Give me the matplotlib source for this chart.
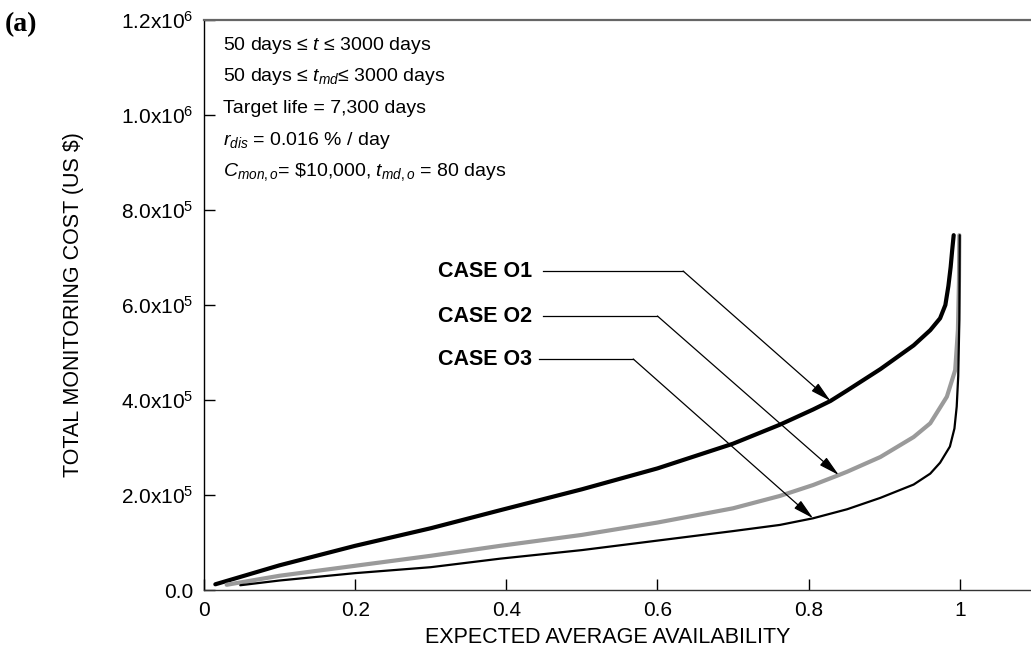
import matplotlib
matplotlib.use("Agg")
import matplotlib.pyplot as plt

plt.rcParams['font.family'] = ['Liberation Sans', 'DejaVu Sans']
plt.rcParams['mathtext.fontset'] = 'custom'
plt.rcParams['mathtext.rm'] = 'Liberation Sans'
plt.rcParams['mathtext.it'] = 'Liberation Sans:italic'
plt.rcParams['mathtext.bf'] = 'Liberation Sans:bold'

# ---- data ----
o1_x = [0.015, 0.1, 0.2, 0.3, 0.392, 0.5, 0.6, 0.7, 0.762, 0.806, 0.829, 0.851,
        0.895, 0.939, 0.961, 0.974, 0.981, 0.985, 0.988, 0.990, 0.992]
o1_y = [12000, 52000, 93000, 130000, 168000, 212000, 256000, 308000, 348000,
        380000, 398000, 420000, 465000, 515000, 547000, 572000, 600000, 640000,
        680000, 715000, 747000]

o2_x = [0.030, 0.1, 0.2, 0.3, 0.392, 0.5, 0.6, 0.7, 0.762, 0.806, 0.840, 0.851,
        0.895, 0.939, 0.961, 0.983, 0.994, 0.9976, 0.999, 0.9995]
o2_y = [11000, 30000, 51000, 72000, 93000, 116000, 142000, 172000, 198000,
        221000, 242000, 249000, 280000, 322000, 351000, 407000, 463000, 547000,
        650000, 747000]

o3_x = [0.048, 0.1, 0.2, 0.3, 0.392, 0.5, 0.6, 0.7, 0.762, 0.806, 0.851, 0.895,
        0.939, 0.961, 0.974, 0.987, 0.993, 0.996, 0.998, 0.9995, 1.0]
o3_y = [10000, 20000, 35500, 48000, 66000, 84000, 104000, 124000, 137000,
        151000, 170000, 194000, 222000, 245000, 268000, 302000, 340000, 386000,
        450000, 568000, 747000]

case_labels = ["CASE O1", "CASE O2", "CASE O3"]
x_ticks = [0, 0.2, 0.4, 0.6, 0.8, 1.0]
x_ticklabels = ["0", "0.2", "0.4", "0.6", "0.8", "1"]
y_ticks = [0, 2e5, 4e5, 6e5, 8e5, 1.0e6, 1.2e6]
y_ticklabels = ["0.0", r"2.0x10$^{5}$", r"4.0x10$^{5}$", r"6.0x10$^{5}$",
                r"8.0x10$^{5}$", r"1.0x10$^{6}$", r"1.2x10$^{6}$"]

info_lines = [
    r"50 days ≤ $t$ ≤ 3000 days",
    r"50 days ≤ $t_{md}$≤ 3000 days",
    r"Target life = 7,300 days",
    r"$r_{dis}$ = 0.016 % / day",
    r"$C_{mon,o}$= \$10,000, $t_{md,o}$ = 80 days",
]

W, H = 1031, 662
fig = plt.figure(figsize=(W / 100, H / 100), dpi=100)
ax = fig.add_axes([204 / W, 1 - 590 / H, (1035.3 - 204) / W, 570 / H])

ax.plot(o1_x, o1_y, color='black', lw=3.0, solid_capstyle='round')
ax.plot(o2_x, o2_y, color='#9a9a9a', lw=3.0, solid_capstyle='round')
ax.plot(o3_x, o3_y, color='black', lw=1.6, solid_capstyle='round')

ax.set_xlim(0, 1.1)
ax.set_ylim(0, 1.2e6)
ax.set_xticks(x_ticks)
ax.set_xticklabels(x_ticklabels)
ax.set_yticks(y_ticks)
ax.set_yticklabels(y_ticklabels)
ax.tick_params(direction='in', length=8, width=1, labelsize=15)
ax.tick_params(axis='x', pad=8)
ax.tick_params(axis='y', pad=8)

ax.spines['right'].set_visible(False)
ax.spines['top'].set_color('#666666')
ax.spines['top'].set_linewidth(1.6)
ax.spines['left'].set_linewidth(1.0)
ax.spines['bottom'].set_linewidth(1.0)
ax.spines['bottom'].set_color('#333333')

ax.set_xlabel("EXPECTED AVERAGE AVAILABILITY", fontsize=15.5)
ax.xaxis.set_label_coords(0.4853, -0.084)
ax.xaxis.label.set_va('center')
ax.set_ylabel("TOTAL MONITORING COST (US $)", fontsize=15.5)
ax.yaxis.set_label_coords(-0.1564, 0.5)
ax.yaxis.label.set_va('center')

# info block
for i, line in enumerate(info_lines):
    ypx = 45 + i * 31.8
    ax.text((223 - 204) / 831.3, (590 - ypx) / 570, line, transform=ax.transAxes,
            fontsize=14, va='center', ha='left')

# case labels with bent leader arrows
label_y = [671500, 576800, 486300]
label_x = [0.434, 0.434, 0.434]
line_start = [0.449, 0.449, 0.443]
bend_x = [0.634, 0.600, 0.568]
tip_x = [0.829, 0.840, 0.806]
tip_y = [398000, 242000, 151000]
for lab, lx, ly, ls, bx, tx, ty in zip(case_labels, label_x, label_y, line_start,
                                        bend_x, tip_x, tip_y):
    ax.text(lx, ly, lab, fontsize=15.5, fontweight='bold', ha='right', va='center')
    ax.plot([ls, bx], [ly, ly], color='black', lw=0.9)
    ax.annotate('', xy=(tx, ty), xytext=(bx, ly),
                arrowprops=dict(arrowstyle='-|>,head_length=0.9,head_width=0.22',
                                color='black', lw=0.9, shrinkA=0, shrinkB=0,
                                mutation_scale=14))

fig.text(5 / W, 1 - 25 / H, "(a)", fontsize=20, fontweight='bold',
         family=['Liberation Serif', 'DejaVu Serif'], ha='left', va='center')

fig.savefig("out.png", dpi=100)
